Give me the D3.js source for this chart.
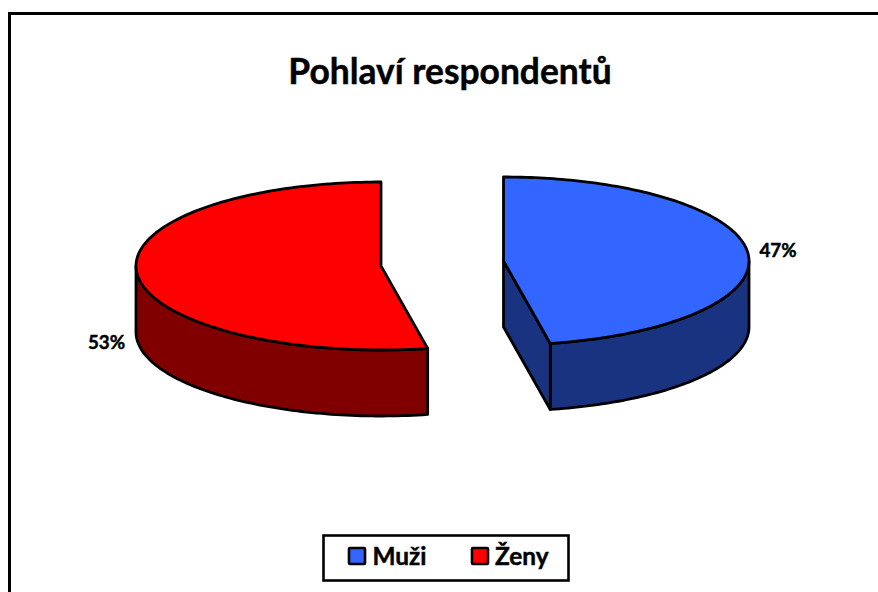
<!DOCTYPE html>
<html><head><meta charset="utf-8">
<script src="https://cdn.jsdelivr.net/npm/d3@7/dist/d3.min.js"></script>
<style>html,body{margin:0;padding:0;background:#fff}svg{display:block}text{font-family:Lato,"Open Sans",sans-serif;font-weight:700;fill:#000;stroke:#000;stroke-width:.45px}</style>
</head><body><script>
const title = "Pohlaví respondentů";
const categories = ["Muži", "Ženy"];
const values = [46.95, 53.05];
const labels = ["47%", "53%"];
const topColors = ["#3366ff", "#ff0000"];
const sideColors = ["#1a3380", "#800000"];

const W = 878, H = 592;
const svg = d3.select("body").append("svg").attr("width", W).attr("height", H);
svg.append("rect").attr("width", W).attr("height", H).attr("fill", "#fff");
svg.append("rect").attr("x", 9.5).attr("y", 13.5).attr("width", W + 20).attr("height", H + 20)
  .attr("fill", "#fff").attr("stroke", "#000").attr("stroke-width", 3);

svg.append("text").attr("x", 450).attr("y", 83.5).attr("text-anchor", "middle")
  .style("font-size", "35.4px").text(title);

const arcs = d3.pie().sort(null)(values);
const layout = [
  {cx: 503.5, cy: 261, rx: 245.5, ry: 84},
  {cx: 381, cy: 266, rx: 245, ry: 84}
];
const depth = 66;
const edge = d3.line().x(d => d[0]).y(d => d[1]);
const stroke = g => g.attr("stroke", "#000").attr("stroke-width", 2.8).attr("stroke-linejoin", "round");

arcs.forEach((a, i) => {
  const L = layout[i];
  const pt = (t, dz = 0) => [L.cx + L.rx * Math.sin(t), L.cy - L.ry * Math.cos(t) + dz];
  const g = svg.append("g");
  const n = 160;
  const angles = d3.range(n + 1).map(k => a.startAngle + (a.endAngle - a.startAngle) * k / n);

  // Outer wall: only the part of the rim that faces the viewer
  const vis = angles.filter(t => t >= Math.PI / 2 && t <= 3 * Math.PI / 2);
  const wallAngles = i === 0
    ? [Math.PI / 2, ...vis, a.endAngle]
    : [a.startAngle, ...vis.filter(t => t > a.startAngle), 3 * Math.PI / 2];
  g.append("path")
    .attr("d", edge([...wallAngles.map(t => pt(t)), ...wallAngles.slice().reverse().map(t => pt(t, depth))]) + "Z")
    .attr("fill", sideColors[i]).call(stroke);

  // Cut face of the blue slice, visible through the gap
  if (i === 0) {
    g.append("path")
      .attr("d", edge([[L.cx, L.cy], [L.cx, L.cy + depth], pt(a.endAngle, depth), pt(a.endAngle)]) + "Z")
      .attr("fill", sideColors[i]).call(stroke);
  }
  // Top face
  g.append("path")
    .attr("d", edge([[L.cx, L.cy], ...angles.map(t => pt(t))]) + "Z")
    .attr("fill", topColors[i]).call(stroke);
});

const labelPos = [[778, 257], [106.5, 349]];
labels.forEach((t, i) => {
  svg.append("text").attr("x", labelPos[i][0]).attr("y", labelPos[i][1])
    .attr("text-anchor", "middle").style("font-size", "18.8px").text(t);
});

// Legend
svg.append("rect").attr("x", 323.5).attr("y", 535.5).attr("width", 245).attr("height", 45)
  .attr("fill", "#fff").attr("stroke", "#000").attr("stroke-width", 2.6);
const swatchX = [349, 472], textX = [372.5, 495];
categories.forEach((c, i) => {
  svg.append("rect").attr("x", swatchX[i]).attr("y", 548).attr("width", 16).attr("height", 16)
    .attr("fill", topColors[i]).attr("stroke", "#000").attr("stroke-width", 2.6).attr("rx", 1);
  svg.append("text").attr("x", textX[i]).attr("y", 565).style("font-size", "24.4px").text(c);
});
</script></body></html>
